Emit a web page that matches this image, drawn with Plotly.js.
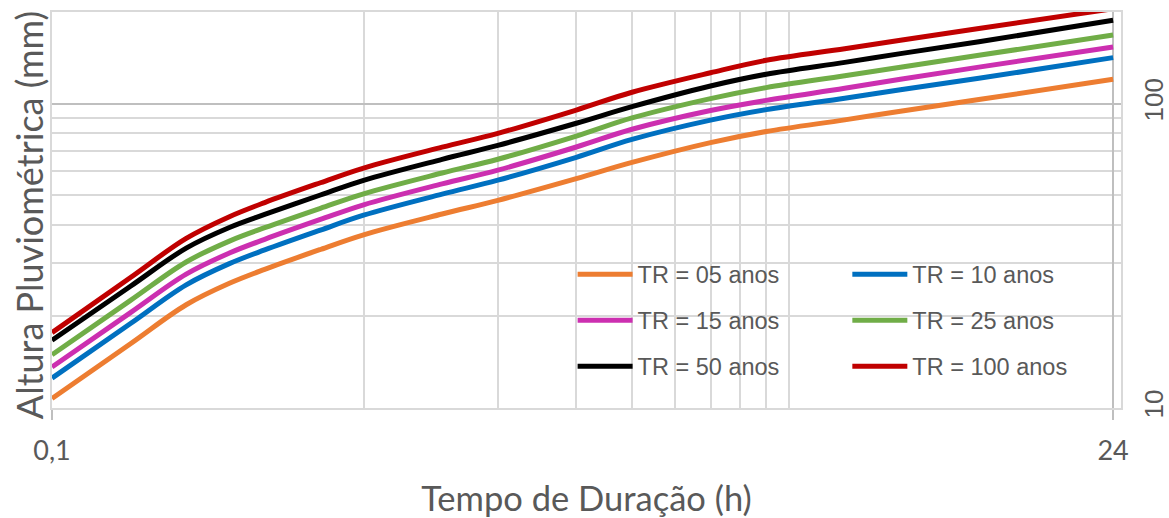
<!DOCTYPE html>
<html><head><meta charset="utf-8">
<script src="https://cdn.plot.ly/plotly-3.0.1.min.js"></script>
<style>html,body{margin:0;padding:0;background:#fff}#chart{width:1169px;height:518px}</style>
</head><body><div id="chart"></div>
<script>
// Duração (h)
const durations = [0.1, 0.15, 0.2, 0.25, 0.3, 0.4, 0.5, 0.75, 1, 1.5, 2, 3, 4, 6, 8, 12, 24];
// Altura pluviométrica (mm) por tempo de retorno
const tr05  = [10.74, 16.26, 21.84, 25.69, 28.55, 33.17, 37.07, 43.38, 48.1, 56.71, 64.1, 74.46, 81.0, 88.44, 94.35, 103.1, 120.2];
const tr10  = [12.54, 18.94, 25.38, 29.8, 33.06, 38.41, 43.0, 50.41, 56.04, 66.63, 76.28, 88.24, 95.58, 104.2, 111.05, 121.1, 141.6];
const tr15  = [13.63, 20.57, 27.52, 32.29, 35.83, 41.63, 46.52, 54.49, 60.46, 72.02, 82.37, 94.94, 102.5, 112.3, 120.3, 131.8, 153.5];
const tr25  = [14.97, 22.57, 30.18, 35.35, 39.11, 45.31, 50.56, 59.17, 65.66, 78.26, 89.74, 103.9, 112.9, 123.4, 131.7, 144.1, 168.1];
const tr50  = [16.69, 25.12, 33.52, 39.18, 43.25, 50.09, 55.98, 65.63, 72.92, 86.2, 97.75, 114.3, 124.9, 136.6, 146.0, 159.6, 187.8];
const tr100 = [17.69, 26.83, 36.08, 42.52, 47.31, 54.96, 61.43, 71.92, 79.85, 95.27, 108.97, 126.3, 138.8, 151.5, 161.6, 176.5, 205.0];

const seriesNames = ['TR = 05 anos', 'TR = 10 anos', 'TR = 15 anos', 'TR = 25 anos', 'TR = 50 anos', 'TR = 100 anos'];
const seriesValues = [tr05, tr10, tr15, tr25, tr50, tr100];
const seriesColors = ['#ED7D31', '#0070C0', '#CC2FB0', '#70AD47', '#000000', '#C00000'];
const seriesLegend = ['legend', 'legend2', 'legend', 'legend2', 'legend', 'legend2'];

const xTickVals = [0.1, 24];
const xTickText = ['0,1', '24'];
const xGridVals = [0.5, 1, 1.5, 2, 2.5, 3, 3.5, 4, 4.5];
const yTickVals = [10, 100];
const yTickText = ['10', '100'];
const yGridVals = [20, 30, 40, 50, 60, 70, 80, 90];

const xTitle = 'Tempo de Duração (h)';
const yTitle = 'Altura Pluviométrica (mm)';

const traces = seriesNames.map((name, i) => ({
  type: 'scatter',
  mode: 'lines',
  name: name,
  x: durations,
  y: seriesValues[i],
  line: {color: seriesColors[i], width: 5, shape: 'spline', smoothing: 1},
  legend: seriesLegend[i],
  legendgroup: 'g' + i
}));

const legendFont = {family: 'Liberation Sans, Arial, sans-serif', size: 23.5, color: '#595959'};
const gray = '#595959';

const layout = {
  width: 1169, height: 518,
  margin: {l: 52, r: 48, t: 12, b: 110},
  paper_bgcolor: '#ffffff', plot_bgcolor: '#ffffff',
  showlegend: true,
  xaxis: {
    type: 'log',
    range: [Math.log10(0.1), Math.log10(25)],
    tickmode: 'array', tickvals: xTickVals, ticktext: xTickText,
    ticks: 'outside', ticklen: 10, tickcolor: '#bfbfbf', tickwidth: 1.5,
    ticklabelstandoff: 8,
    tickfont: {family: 'Lato, sans-serif', size: 27, color: gray},
    showgrid: true, gridcolor: '#bfbfbf', gridwidth: 1.5,
    minor: {tickmode: 'array', tickvals: xGridVals, showgrid: true, gridcolor: '#d9d9d9', gridwidth: 1.5, ticks: ''},
    showline: true, linecolor: '#d9d9d9', linewidth: 1.5, mirror: true,
    zeroline: false,
    title: {text: xTitle, font: {family: 'Lato, sans-serif', size: 34.5, color: gray}, standoff: 22},
    automargin: false
  },
  yaxis: {
    type: 'log', side: 'right',
    range: [1, Math.log10(200)],
    tickmode: 'array', tickvals: yTickVals, ticktext: yTickText,
    ticks: '', tickangle: -90,
    ticklabelstandoff: 9,
    tickfont: {family: 'Liberation Sans, Arial, sans-serif', size: 26, color: gray},
    showgrid: true, gridcolor: '#bfbfbf', gridwidth: 1.5,
    minor: {tickmode: 'array', tickvals: yGridVals, showgrid: true, gridcolor: '#d9d9d9', gridwidth: 1.5, ticks: ''},
    showline: true, linecolor: '#d9d9d9', linewidth: 1.5, mirror: true,
    zeroline: false,
    automargin: false
  },
  legend: {
    x: 0.487, y: 0.393, xanchor: 'left', yanchor: 'top',
    orientation: 'v', bgcolor: 'rgba(0,0,0,0)', borderwidth: 0,
    font: legendFont, tracegroupgap: 12.5, itemwidth: 55
  },
  legend2: {
    x: 0.744, y: 0.393, xanchor: 'left', yanchor: 'top',
    orientation: 'v', bgcolor: 'rgba(0,0,0,0)', borderwidth: 0,
    font: legendFont, tracegroupgap: 12.5, itemwidth: 55
  },
  annotations: [{
    text: yTitle, textangle: -90,
    xref: 'paper', yref: 'paper', x: -0.0215, y: 0.487,
    xanchor: 'center', yanchor: 'middle', showarrow: false,
    font: {family: 'Lato, sans-serif', size: 36, color: gray}
  }]
};

Plotly.newPlot('chart', traces, layout, {displayModeBar: false, responsive: false});
</script>
</body></html>
